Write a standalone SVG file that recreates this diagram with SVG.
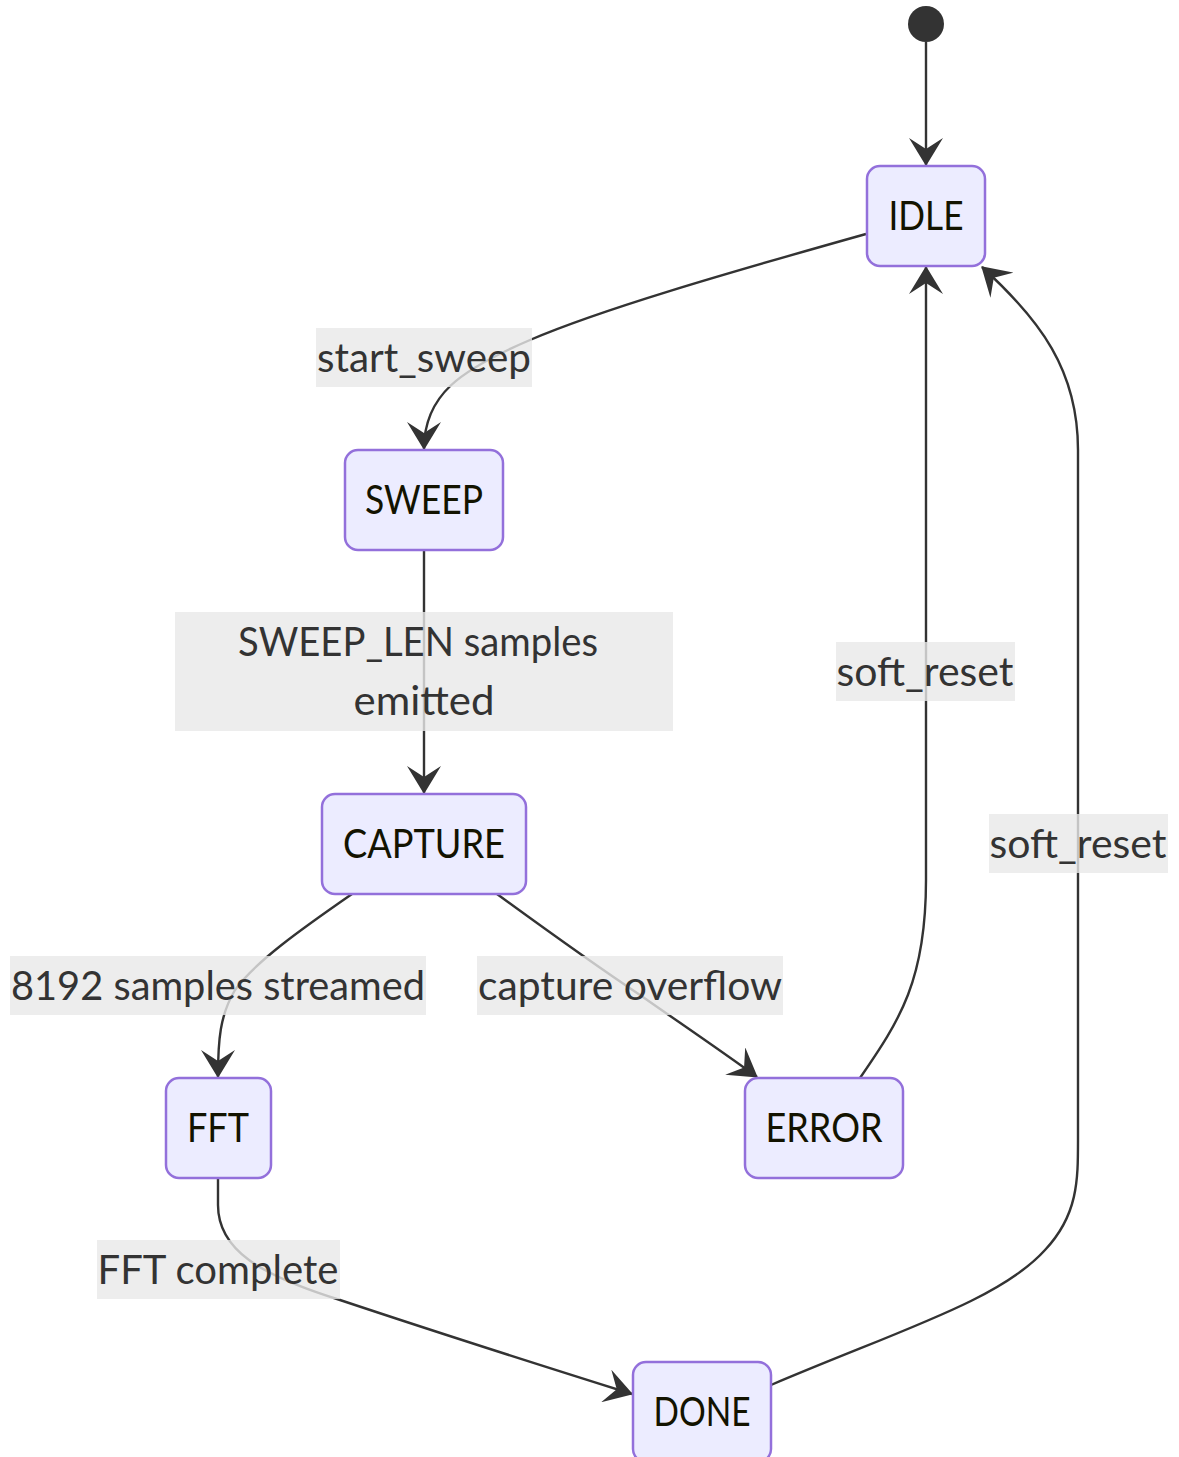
<svg xmlns="http://www.w3.org/2000/svg" width="1179" height="1457" viewBox="0 0 1179 1457">
  <style>
    .state rect { fill: #ECECFF; stroke: #9370DB; stroke-width: 2.5; }
    .state text { font-family: Lato, "Open Sans", sans-serif; font-size: 40px; fill: #131300; text-anchor: middle; dominant-baseline: central; }
    .edge { fill: none; stroke: #333333; stroke-width: 2.4; marker-end: url(#arrow); }
    .lbl rect { fill: rgba(232,232,232,0.8); }
    .lbl text { font-family: Lato, "Open Sans", sans-serif; font-size: 40px; fill: #333333; text-anchor: middle; dominant-baseline: central; }
  </style>
  <defs>
    <marker id="arrow" viewBox="0 0 28 34" refX="27" refY="17" markerWidth="28" markerHeight="34" markerUnits="userSpaceOnUse" orient="auto">
      <path d="M0,0 L28,17 L0,34 L11,17 z" fill="#333333"/>
    </marker>
  </defs>

  <!-- transitions -->
  <g id="edges">
    <path class="edge" d="M926,42 L926,165"/>
    <path class="edge" d="M866,234 C720,275 600,310 530,340 C460,370 424,395 424,449"/>
    <path class="edge" d="M424,550 L424,793"/>
    <path class="edge" d="M352,894 C300,930 255,962 235,990 C220,1015 218,1040 218,1077"/>
    <path class="edge" d="M497,894 C560,940 610,975 640,995 C680,1023 720,1050 757,1077"/>
    <path class="edge" d="M860,1078 C900,1020 926,980 926,880 L926,267"/>
    <path class="edge" d="M771,1385 C900,1330 1000,1300 1045,1250 C1078,1215 1078,1180 1078,1140 L1078,450 C1078,370 1040,320 982,267"/>
    <path class="edge" d="M218,1178 L218,1205 C218,1250 260,1275 340,1300 C430,1330 530,1362 632,1394"/>
  </g>

  <!-- transition labels -->
  <g id="labels">
    <g class="lbl"><rect x="316" y="328" width="216" height="59"/><text x="424" y="357" textLength="214" lengthAdjust="spacingAndGlyphs">start_sweep</text></g>
    <g class="lbl"><rect x="175" y="612" width="498" height="119"/><text x="418" y="641" textLength="360" lengthAdjust="spacingAndGlyphs">SWEEP_LEN samples</text><text x="424" y="700" textLength="141" lengthAdjust="spacingAndGlyphs">emitted</text></g>
    <g class="lbl"><rect x="836" y="642" width="179" height="59"/><text x="925" y="671" textLength="177" lengthAdjust="spacingAndGlyphs">soft_reset</text></g>
    <g class="lbl"><rect x="989" y="814" width="179" height="59"/><text x="1078" y="843" textLength="177" lengthAdjust="spacingAndGlyphs">soft_reset</text></g>
    <g class="lbl"><rect x="10" y="956" width="416" height="59"/><text x="218" y="985" textLength="414" lengthAdjust="spacingAndGlyphs">8192 samples streamed</text></g>
    <g class="lbl"><rect x="477" y="956" width="306" height="59"/><text x="630" y="985" textLength="304" lengthAdjust="spacingAndGlyphs">capture overflow</text></g>
    <g class="lbl"><rect x="97" y="1240" width="243" height="59"/><text x="218" y="1269" textLength="241" lengthAdjust="spacingAndGlyphs">FFT complete</text></g>
  </g>

  <!-- states -->
  <g id="start"><circle cx="926" cy="24" r="18" fill="#333333"/></g>
  <g id="IDLE" class="state"><rect x="867" y="166" width="118" height="100" rx="13"/><text x="926" y="215" textLength="75" lengthAdjust="spacingAndGlyphs">IDLE</text></g>
  <g id="SWEEP" class="state"><rect x="345" y="450" width="158" height="100" rx="13"/><text x="424" y="499" textLength="118" lengthAdjust="spacingAndGlyphs">SWEEP</text></g>
  <g id="CAPTURE" class="state"><rect x="322" y="794" width="204" height="100" rx="13"/><text x="424" y="843" textLength="162" lengthAdjust="spacingAndGlyphs">CAPTURE</text></g>
  <g id="FFT" class="state"><rect x="166" y="1078" width="105" height="100" rx="13"/><text x="218" y="1127" textLength="62" lengthAdjust="spacingAndGlyphs">FFT</text></g>
  <g id="ERROR" class="state"><rect x="745" y="1078" width="158" height="100" rx="13"/><text x="824" y="1127" textLength="117" lengthAdjust="spacingAndGlyphs">ERROR</text></g>
  <g id="DONE" class="state"><rect x="633" y="1362" width="138" height="100" rx="13"/><text x="702" y="1411" textLength="97" lengthAdjust="spacingAndGlyphs">DONE</text></g>
</svg>
